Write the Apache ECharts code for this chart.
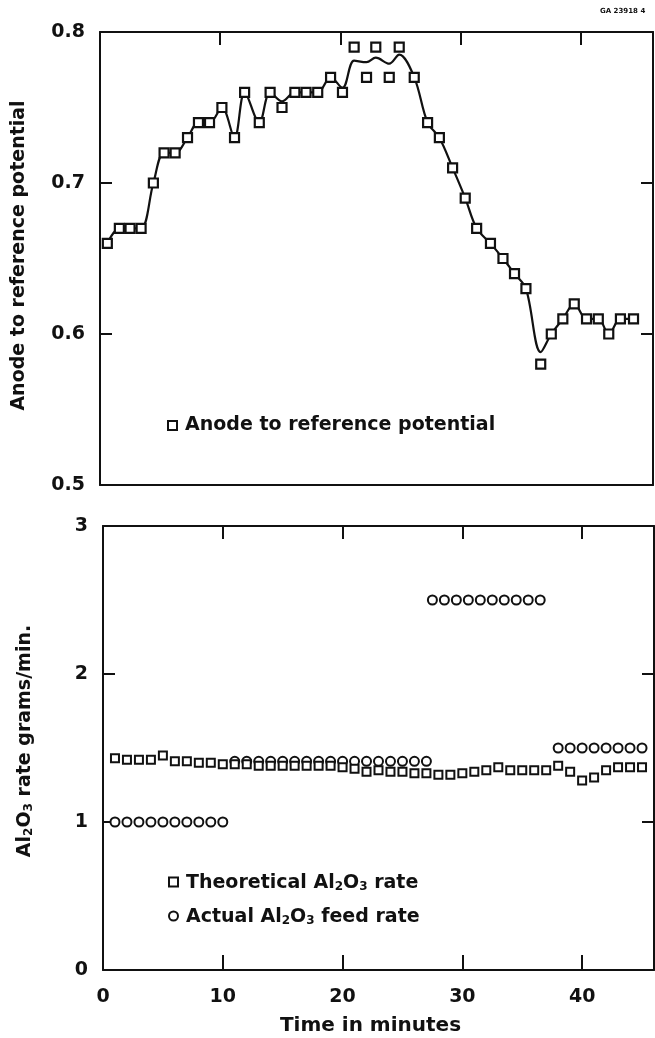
<!DOCTYPE html>
<html><head><meta charset="utf-8">
<script src="https://cdn.jsdelivr.net/npm/echarts@6/dist/echarts.min.js"></script>
<style>html,body{margin:0;padding:0;background:#fff}#c{width:655px;height:1038px}</style>
</head><body><div id="c"></div>
<script>
// ---- data ----
const xTicks = [0, 10, 20, 30, 40];
const topYTicks = [0.5, 0.6, 0.7, 0.8];
const botYTicks = [0, 1, 2, 3];

// Anode to reference potential (squares)
const topX = [0.61, 1.61, 2.5, 3.42, 4.44, 5.33, 6.25, 7.28, 8.19, 9.11, 10.14, 11.19, 12.03, 13.25, 14.15, 15.14, 16.21, 17.14, 18.11, 19.18, 20.17, 21.14, 22.17, 22.94, 24.06, 24.89, 26.14, 27.25, 28.23, 29.33, 30.38, 31.33, 32.48, 33.52, 34.48, 35.43, 36.66, 37.54, 38.5, 39.45, 40.47, 41.45, 42.32, 43.29, 44.38];
const topY = [0.66, 0.67, 0.67, 0.67, 0.70, 0.72, 0.72, 0.73, 0.74, 0.74, 0.75, 0.73, 0.76, 0.74, 0.76, 0.75, 0.76, 0.76, 0.76, 0.77, 0.76, 0.79, 0.77, 0.79, 0.77, 0.79, 0.77, 0.74, 0.73, 0.71, 0.69, 0.67, 0.66, 0.65, 0.64, 0.63, 0.58, 0.60, 0.61, 0.62, 0.61, 0.61, 0.60, 0.61, 0.61];
// fitted curve
const curveX = [0.61, 1.61, 2.5, 3.42, 4.44, 5.33, 6.25, 7.28, 8.19, 9.11, 10.14, 11.19, 12.03, 13.25, 14.15, 15.14, 16.21, 17.14, 18.11, 19.18, 20.17, 21.14, 22.17, 22.94, 24.06, 24.89, 26.14, 27.25, 28.23, 29.33, 30.38, 31.33, 32.48, 33.52, 34.48, 35.43, 36.66, 37.54, 38.5, 39.45, 40.47, 41.45, 42.32, 43.29, 44.38];
const curveY = [0.66, 0.67, 0.67, 0.67, 0.70, 0.72, 0.72, 0.73, 0.74, 0.74, 0.75, 0.73, 0.76, 0.74, 0.76, 0.754, 0.76, 0.76, 0.76, 0.77, 0.763, 0.781, 0.780, 0.783, 0.779, 0.785, 0.77, 0.74, 0.73, 0.71, 0.69, 0.67, 0.66, 0.65, 0.64, 0.63, 0.588, 0.60, 0.61, 0.62, 0.61, 0.61, 0.60, 0.61, 0.61];

// Al2O3 rates
const botX = [1, 2, 3, 4, 5, 6, 7, 8, 9, 10, 11, 12, 13, 14, 15, 16, 17, 18, 19, 20, 21, 22, 23, 24, 25, 26, 27, 28, 29, 30, 31, 32, 33, 34, 35, 36, 37, 38, 39, 40, 41, 42, 43, 44, 45];
const theoY = [1.43, 1.42, 1.42, 1.42, 1.45, 1.41, 1.41, 1.40, 1.40, 1.39, 1.39, 1.39, 1.38, 1.38, 1.38, 1.38, 1.38, 1.38, 1.38, 1.37, 1.36, 1.34, 1.35, 1.34, 1.34, 1.33, 1.33, 1.32, 1.32, 1.33, 1.34, 1.35, 1.37, 1.35, 1.35, 1.35, 1.35, 1.38, 1.34, 1.28, 1.30, 1.35, 1.37, 1.37, 1.37];
const actualX = [1, 2, 3, 4, 5, 6, 7, 8, 9, 10, 11, 12, 13, 14, 15, 16, 17, 18, 19, 20, 21, 22, 23, 24, 25, 26, 27, 27.5, 28.5, 29.5, 30.5, 31.5, 32.5, 33.5, 34.5, 35.5, 36.5, 38, 39, 40, 41, 42, 43, 44, 45];
const actualY = [1.0, 1.0, 1.0, 1.0, 1.0, 1.0, 1.0, 1.0, 1.0, 1.0, 1.41, 1.41, 1.41, 1.41, 1.41, 1.41, 1.41, 1.41, 1.41, 1.41, 1.41, 1.41, 1.41, 1.41, 1.41, 1.41, 1.41, 2.5, 2.5, 2.5, 2.5, 2.5, 2.5, 2.5, 2.5, 2.5, 2.5, 1.5, 1.5, 1.5, 1.5, 1.5, 1.5, 1.5, 1.5];

const topName = 'Anode to reference potential';
const theoName = 'Theoretical Al2O3 rate';
const actName = 'Actual Al2O3 feed rate';

// ---- styling ----
const FONT = 'DejaVu Sans';
const INK = '#111';
const richSub = {
  n: { fontFamily: FONT, fontWeight: 'bold', fontSize: 19, color: INK, lineHeight: 22, verticalAlign: 'bottom' },
  s: { fontFamily: FONT, fontWeight: 'bold', fontSize: 12, color: INK, lineHeight: 10, verticalAlign: 'bottom' }
};
function subFmt(name) {
  return name.split(/(Al2O3)/).map(p => p === 'Al2O3' ? '{n|Al}{s|2}{n|O}{s|3}' : (p ? '{n|' + p + '}' : '')).join('');
}

const lineStyle = { color: INK, width: 2 };
function xAx(grid, pos, opts) {
  return Object.assign({
    type: 'value', gridIndex: grid, position: pos, min: 0, max: 46, interval: 10,
    axisLine: { show: true, onZero: false, lineStyle },
    axisTick: { show: true, inside: true, length: 13, lineStyle },
    axisLabel: { show: false },
    splitLine: { show: false }
  }, opts || {});
}
function yAx(grid, pos, min, max, interval, opts) {
  return Object.assign({
    type: 'value', gridIndex: grid, position: pos, min, max, interval,
    axisLine: { show: true, onZero: false, lineStyle },
    axisTick: { show: true, inside: true, length: 12, lineStyle },
    axisLabel: { show: false },
    splitLine: { show: false }
  }, opts || {});
}
const labelStyle = { show: true, fontFamily: FONT, fontWeight: 'bold', fontSize: 19, color: INK };

const option = {
  backgroundColor: '#fff',
  animation: false,
  grid: [
    { left: 100, right: 2, top: 32, height: 453 },
    { left: 103, right: 1, top: 526, height: 444 }
  ],
  xAxis: [
    xAx(0, 'bottom', { axisTick: { show: false } }),
    xAx(0, 'top'),
    xAx(1, 'bottom', {
      axisLabel: Object.assign({}, labelStyle, { margin: 18, showMaxLabel: false,
        formatter: v => xTicks.includes(v) ? String(v) : '' }),
      axisTick: { show: true, inside: true, length: 15, lineStyle },
      name: 'Time in minutes', nameLocation: 'middle', nameGap: 46,
      nameTextStyle: { fontFamily: FONT, fontWeight: 'bold', fontSize: 20, color: INK, padding: [0, 16, 0, 0] }
    }),
    xAx(1, 'top')
  ],
  yAxis: [
    yAx(0, 'left', 0.5, 0.8, 0.1, {
      axisLabel: Object.assign({}, labelStyle, { margin: 15,
        formatter: v => { const t = topYTicks.find(k => Math.abs(k - v) < 1e-6); return t === undefined ? '' : t.toFixed(1); } }),
      name: topName, nameLocation: 'middle', nameGap: 71, nameRotate: 90,
      nameTextStyle: { fontFamily: FONT, fontWeight: 'bold', fontSize: 19, color: INK, padding: [0, 0, 0, 6] }
    }),
    yAx(0, 'right', 0.5, 0.8, 0.1),
    yAx(1, 'left', 0, 3, 1, {
      axisLabel: Object.assign({}, labelStyle, { margin: 15,
        formatter: v => botYTicks.includes(v) ? String(v) : '' }),
      name: subFmt('Al2O3 rate grams/min.'), nameLocation: 'middle', nameGap: 68, nameRotate: 90,
      nameTextStyle: { rich: richSub, padding: [0, 0, 0, 14] }
    }),
    yAx(1, 'right', 0, 3, 1)
  ],
  legend: [
    {
      data: [{ name: topName, icon: 'rect', itemStyle: { color: '#fff', borderColor: INK, borderWidth: 2 } }],
      left: 162, top: 411, itemWidth: 9, itemHeight: 9, selectedMode: false,
      textStyle: { fontFamily: FONT, fontWeight: 'bold', fontSize: 19, color: INK, padding: [0, 0, 0, 3] }
    },
    {
      data: [
        { name: theoName, icon: 'rect', itemStyle: { color: '#fff', borderColor: INK, borderWidth: 2 } },
        { name: actName, icon: 'circle', itemStyle: { color: '#fff', borderColor: INK, borderWidth: 2 } }
      ],
      orient: 'vertical', left: 163, top: 869, itemGap: 15, itemWidth: 9, itemHeight: 9, selectedMode: false,
      formatter: subFmt,
      textStyle: { rich: richSub, padding: [0, 0, 0, 3] }
    }
  ],
  graphic: [
    { type: 'text', left: 600, top: 8, style: { text: 'GA 23918 4', fontFamily: FONT, fontWeight: 'bold', fontSize: 7, fill: INK } }
  ],
  series: [
    {
      type: 'line', name: 'curve', xAxisIndex: 0, yAxisIndex: 0, smooth: 0.35, showSymbol: false,
      data: curveX.map((x, i) => [x, curveY[i]]), lineStyle: { color: INK, width: 2.2 }, z: 2
    },
    {
      type: 'scatter', name: topName, xAxisIndex: 0, yAxisIndex: 0, symbol: 'rect', symbolSize: 9,
      itemStyle: { color: '#fff', borderColor: INK, borderWidth: 2.2, opacity: 1 },
      data: topX.map((x, i) => [x, topY[i]]), z: 5
    },
    {
      type: 'scatter', name: actName, xAxisIndex: 2, yAxisIndex: 2, symbol: 'circle', symbolSize: 9,
      itemStyle: { color: '#fff', borderColor: INK, borderWidth: 2, opacity: 1 },
      data: actualX.map((x, i) => [x, actualY[i]]), z: 4
    },
    {
      type: 'scatter', name: theoName, xAxisIndex: 2, yAxisIndex: 2, symbol: 'rect', symbolSize: 8,
      itemStyle: { color: '#fff', borderColor: INK, borderWidth: 2, opacity: 1 },
      data: botX.map((x, i) => [x, theoY[i]]), z: 5
    }
  ]
};
const chart = echarts.init(document.getElementById('c'), null, { renderer: 'canvas' });
chart.setOption(option);
</script>
</body></html>
